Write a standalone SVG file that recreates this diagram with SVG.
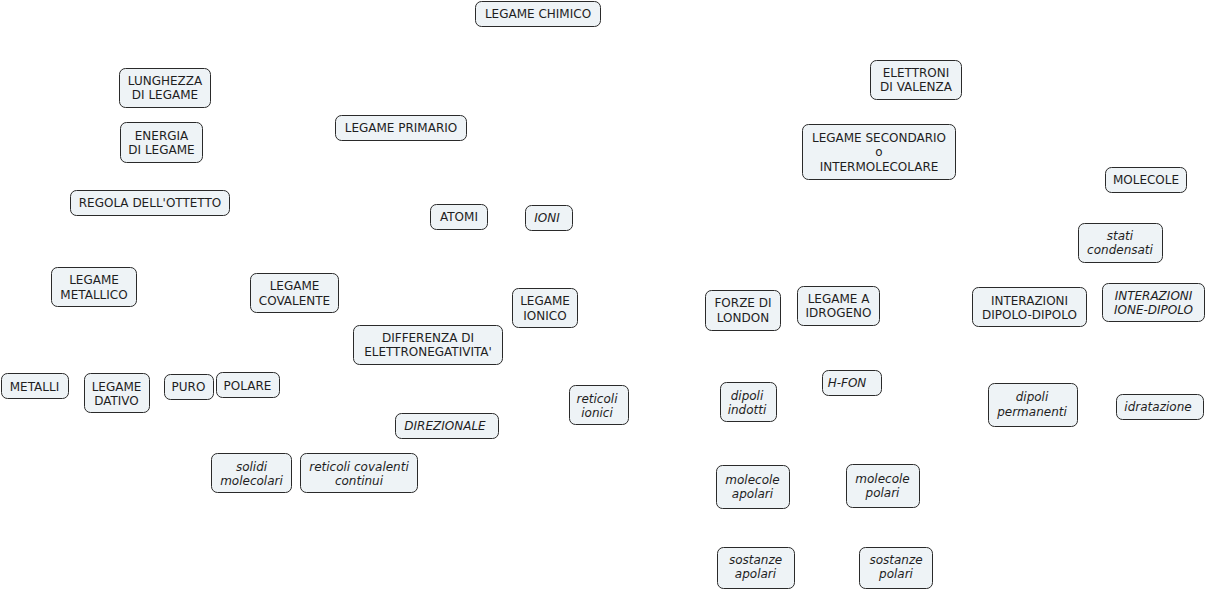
<svg xmlns="http://www.w3.org/2000/svg" width="1207" height="590" viewBox="0 0 1207 590">
<style>
.b{fill:#eef3f6;stroke:#2a2a2a;stroke-width:1}
text{font-family:"DejaVu Sans",Verdana,sans-serif;font-size:12px;fill:#1e1e1e;text-anchor:middle}
.i{font-style:italic}
</style>
<rect width="1207" height="590" fill="#ffffff"/>
<g id="connectors"></g>
<g id="n1"><rect class="b" x="475.5" y="1.5" width="125" height="25" rx="6"/><text x="538" y="18">LEGAME CHIMICO</text></g>
<g id="n2"><rect class="b" x="119.5" y="68.5" width="91" height="39" rx="6"/><text x="165" y="85">LUNGHEZZA</text><text x="165" y="99">DI LEGAME</text></g>
<g id="n3"><rect class="b" x="120.5" y="122.5" width="82" height="40" rx="6"/><text x="161.5" y="139.5">ENERGIA</text><text x="161.5" y="153.5">DI LEGAME</text></g>
<g id="n4"><rect class="b" x="70.5" y="190.5" width="159" height="25" rx="6"/><text x="150" y="207">REGOLA DELL'OTTETTO</text></g>
<g id="n5"><rect class="b" x="335.5" y="115.5" width="131" height="25" rx="6"/><text x="401" y="132">LEGAME PRIMARIO</text></g>
<g id="n6"><rect class="b" x="430.5" y="204.5" width="57" height="25" rx="6"/><text x="459" y="221">ATOMI</text></g>
<g id="n7"><rect class="b" x="525.5" y="205.5" width="47" height="25" rx="6"/><text class="i" x="547" y="222">IONI</text></g>
<g id="n8"><rect class="b" x="870.5" y="60.5" width="91" height="39" rx="6"/><text x="916" y="77">ELETTRONI</text><text x="916" y="91">DI VALENZA</text></g>
<g id="n9"><rect class="b" x="802.5" y="124.5" width="153" height="55" rx="6"/><text x="879" y="141.5">LEGAME SECONDARIO</text><text x="879" y="156">o</text><text x="879" y="170.5">INTERMOLECOLARE</text></g>
<g id="n10"><rect class="b" x="1105.5" y="167.5" width="81" height="25" rx="6"/><text x="1146" y="184">MOLECOLE</text></g>
<g id="n11"><rect class="b" x="1078.5" y="223.5" width="84" height="39" rx="6"/><text class="i" x="1120" y="240">stati</text><text class="i" x="1120" y="254">condensati</text></g>
<g id="n12"><rect class="b" x="797.5" y="286.5" width="82" height="39" rx="6"/><text x="838.5" y="303">LEGAME A</text><text x="838.5" y="317">IDROGENO</text></g>
<g id="n13"><rect class="b" x="972.5" y="287.5" width="114" height="39" rx="6"/><text x="1029.5" y="304.5">INTERAZIONI</text><text x="1029.5" y="318.5">DIPOLO-DIPOLO</text></g>
<g id="n14"><rect class="b" x="1102.5" y="283.5" width="102" height="38" rx="6"/><text class="i" x="1153.5" y="299.5">INTERAZIONI</text><text class="i" x="1153.5" y="313.5">IONE-DIPOLO</text></g>
<g id="n15"><rect class="b" x="705.5" y="290.5" width="75" height="40" rx="6"/><text x="743" y="307">FORZE DI</text><text x="743" y="321.5">LONDON</text></g>
<g id="n16"><rect class="b" x="822.5" y="370.5" width="59" height="25" rx="6"/><text class="i" x="847" y="387">H-FON</text></g>
<g id="n17"><rect class="b" x="720.5" y="382.5" width="56" height="39" rx="6"/><text class="i" x="747" y="399.5">dipoli</text><text class="i" x="747" y="413.5">indotti</text></g>
<g id="n18"><rect class="b" x="988.5" y="383.5" width="89" height="43" rx="6"/><text class="i" x="1032" y="401">dipoli</text><text class="i" x="1032" y="415.5">permanenti</text></g>
<g id="n19"><rect class="b" x="1116.5" y="394.5" width="87" height="25" rx="6"/><text class="i" x="1158" y="411">idratazione</text></g>
<g id="n20"><rect class="b" x="716.5" y="465.5" width="73" height="43" rx="6"/><text class="i" x="752.5" y="483.5">molecole</text><text class="i" x="752.5" y="497.5">apolari</text></g>
<g id="n21"><rect class="b" x="846.5" y="464.5" width="73" height="43" rx="6"/><text class="i" x="882.5" y="482.5">molecole</text><text class="i" x="882.5" y="496.5">polari</text></g>
<g id="n22"><rect class="b" x="717.5" y="547.5" width="77" height="41" rx="6"/><text class="i" x="755.5" y="563.5">sostanze</text><text class="i" x="755.5" y="577.5">apolari</text></g>
<g id="n23"><rect class="b" x="859.5" y="547.5" width="73" height="41" rx="6"/><text class="i" x="896" y="563.5">sostanze</text><text class="i" x="896" y="577.5">polari</text></g>
<g id="n24"><rect class="b" x="51.5" y="267.5" width="85" height="39" rx="6"/><text x="94" y="283.5">LEGAME</text><text x="94" y="298.5">METALLICO</text></g>
<g id="n25"><rect class="b" x="250.5" y="273.5" width="88" height="39" rx="6"/><text x="294.5" y="290">LEGAME</text><text x="294.5" y="304.5">COVALENTE</text></g>
<g id="n26"><rect class="b" x="353.5" y="325.5" width="149" height="39" rx="6"/><text x="428" y="341.5">DIFFERENZA DI</text><text x="428" y="356">ELETTRONEGATIVITA'</text></g>
<g id="n27"><rect class="b" x="512.5" y="288.5" width="65" height="39" rx="6"/><text x="545" y="305">LEGAME</text><text x="545" y="319.5">IONICO</text></g>
<g id="n28"><rect class="b" x="569.5" y="385.5" width="59" height="39" rx="6"/><text class="i" x="597" y="402.5">reticoli</text><text class="i" x="597" y="416.5">ionici</text></g>
<g id="n29"><rect class="b" x="395.5" y="413.5" width="103" height="25" rx="6"/><text class="i" x="445" y="430">DIREZIONALE</text></g>
<g id="n30"><rect class="b" x="1.5" y="373.5" width="67" height="25" rx="6"/><text x="34.5" y="391">METALLI</text></g>
<g id="n31"><rect class="b" x="84.5" y="373.5" width="65" height="39" rx="6"/><text x="116.5" y="390.5">LEGAME</text><text x="116.5" y="404.5">DATIVO</text></g>
<g id="n32"><rect class="b" x="164.5" y="374.5" width="49" height="25" rx="6"/><text x="188.5" y="391">PURO</text></g>
<g id="n33"><rect class="b" x="216.5" y="372.5" width="63" height="25" rx="6"/><text x="247.5" y="389.5">POLARE</text></g>
<g id="n34"><rect class="b" x="211.5" y="453.5" width="80" height="39" rx="6"/><text class="i" x="251.5" y="470.5">solidi</text><text class="i" x="251.5" y="484.5">molecolari</text></g>
<g id="n35"><rect class="b" x="300.5" y="453.5" width="117" height="39" rx="6"/><text class="i" x="359" y="470.5">reticoli covalenti</text><text class="i" x="359" y="484.5">continui</text></g>
</svg>
